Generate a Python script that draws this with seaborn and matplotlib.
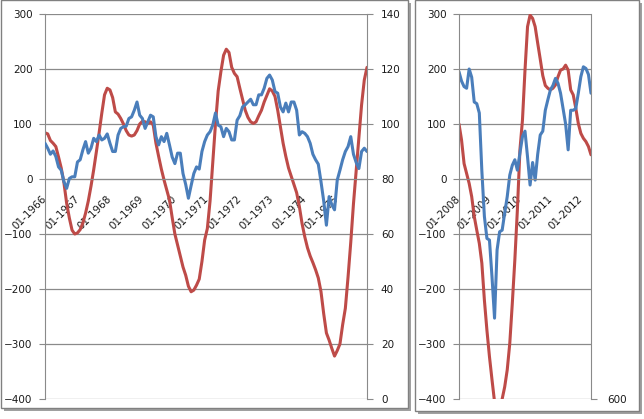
import numpy as np
import pandas as pd
import matplotlib
matplotlib.use("Agg")
import matplotlib.pyplot as plt
import seaborn as sns
from matplotlib.patches import Rectangle

# ---- data ----
# left panel: monthly, 01-1966 .. 12-1975
months_a = pd.date_range("1966-01-01", periods=120, freq="MS")
red_a = [84, 82, 70, 65, 59, 40, 20, -7, -44, -71, -93, -100, -98, -92, -80, -62, -40, -13, 17, 50,
         84, 120, 153, 165, 162, 148, 122, 118, 110, 100, 88, 80, 78, 80, 88, 100, 105, 104, 101, 104,
         98, 65, 41, 18, -2, -20, -38, -70, -100, -120, -140, -160, -175, -195, -205, -202, -193, -182, -150, -111,
         -90, -40, 30, 100, 160, 195, 225, 236, 230, 203, 192, 186, 165, 145, 125, 112, 104, 101, 104, 115,
         125, 140, 152, 164, 160, 150, 125, 95, 65, 41, 20, 5, -10, -25, -50, -81, -105, -125, -140, -152,
         -165, -180, -205, -245, -280, -293, -308, -322, -312, -300, -265, -235, -178, -115, -45, 15, 75, 135, 180, 203]
# blue series is on the secondary (right) axis
blue_a = [93.0, 91.2, 89.0, 90.2, 88.2, 84.4, 83.2, 79.0, 76.6, 80.2, 80.8, 80.8, 86.2, 87.0, 90.6, 93.6, 89.4, 91.2, 94.8, 93.6,
          96.0, 94.2, 94.8, 96.4, 93.0, 90.0, 90.0, 96.0, 98.4, 99.0, 99.2, 102.0, 102.6, 105.0, 108.0, 103.2, 102.0, 98.4, 100.8, 103.2,
          102.6, 95.4, 92.4, 95.4, 93.6, 96.6, 92.4, 88.0, 85.6, 89.4, 89.4, 82.0, 78.0, 73.0, 77.6, 82.0, 84.4, 83.6, 90.0, 93.6,
          96.0, 97.2, 99.6, 104.0, 99.6, 99.0, 95.4, 98.4, 97.2, 94.2, 94.2, 101.4, 103.0, 106.2, 107.0, 108.0, 109.0, 107.0, 107.0, 110.6,
          110.6, 113.0, 116.6, 117.8, 116.0, 111.8, 111.2, 106.2, 104.4, 107.6, 104.4, 108.0, 108.0, 105.0, 96.0, 97.2, 96.6, 95.4, 93.0, 89.0,
          87.0, 85.4, 79.0, 72.0, 63.2, 73.6, 70.6, 68.8, 79.6, 83.2, 87.0, 90.0, 91.8, 95.4, 89.0, 86.0, 83.8, 90.0, 91.2, 90.0]

# right panel: monthly, 01-2008 .. 05-2012
months_b = pd.date_range("2008-01-01", periods=53, freq="MS")
red_b = [100, 71, 28, 10, -8, -32, -68, -93, -117, -153, -220, -275, -323, -365, -405, -430, -420, -400, -378, -347,
         -299, -226, -147, -56, 53, 107, 198, 277, 298, 292, 277, 247, 218, 188, 170, 165, 162, 165, 171, 186,
         198, 200, 207, 198, 162, 153, 129, 101, 83, 74, 68, 59, 44]
blue_b = [195, 178, 168, 165, 200, 185, 140, 137, 120, 15, -68, -108, -111, -178, -253, -129, -96, -93, -62, -32,
          7, 25, 35, 16, 47, 77, 87, 40, -11, 30, -2, 45, 80, 87, 125, 144, 162, 170, 183, 174,
          156, 128, 100, 53, 125, 125, 128, 156, 186, 204, 201, 190, 156]

RED = "#BE4B48"
BLUE = "#4A7EBB"
GRID = "#8a8a8a"
TXT = "#1a1a1a"

sns.set_style("white")
plt.rcParams["font.family"] = ["DejaVu Sans"]
plt.rcParams["font.size"] = 7.5

W, H = 644, 419
fig = plt.figure(figsize=(W / 100, H / 100), dpi=100)


def frame(x0, y0, x1, y1):
    # excel-like chart box with a small drop shadow
    sh = Rectangle(((x0 + 3) / W, 1 - (y1 + 3) / H), (x1 - x0) / W, (y1 - y0) / H,
                   transform=fig.transFigure, facecolor="#a0a0a0", edgecolor="none", zorder=-10)
    bx = Rectangle((x0 / W, 1 - y1 / H), (x1 - x0) / W, (y1 - y0) / H,
                   transform=fig.transFigure, facecolor="white", edgecolor="#808080", lw=1, zorder=-9)
    fig.patches.extend([sh, bx])


frame(1, 0.5, 408, 408)
frame(415, 0.5, 639, 411)


def style_axis(ax, n, dates):
    ax.set_xlim(0, n - 1)
    ax.set_ylim(-400, 300)
    ax.set_yticks(range(-400, 301, 100))
    ax.yaxis.grid(True, color=GRID, lw=0.9)
    ax.set_axisbelow(True)
    ax.patch.set_alpha(0)
    ax.spines["top"].set_visible(False)
    ax.spines["right"].set_visible(False)
    ax.spines["left"].set_color(GRID)
    ax.spines["bottom"].set_color(GRID)
    ax.spines["bottom"].set_position(("data", 0))
    pos = list(range(0, n, 12))
    ax.set_xticks(pos)
    ax.set_xticklabels([dates[p].strftime("%m-%Y") for p in pos], rotation=45,
                       ha="right", va="center", rotation_mode="anchor", color=TXT)
    ax.tick_params(axis="x", direction="out", length=3, color=GRID, pad=10)
    ax.tick_params(axis="y", direction="out", length=4, color=GRID, pad=5, labelcolor=TXT)
    ax.set_xlabel("")
    ax.set_ylabel("")


# left panel
axA = fig.add_axes([45 / W, 1 - 399 / H, 322 / W, 385 / H])
sns.lineplot(x=np.arange(len(red_a)), y=red_a, ax=axA, color=RED, lw=2.2)
style_axis(axA, len(red_a), months_a)

axA2 = axA.twinx()
sns.lineplot(x=np.arange(len(blue_a)), y=blue_a, ax=axA2, color=BLUE, lw=2.2)
axA2.set_ylim(0, 140)
axA2.set_yticks(range(0, 141, 20))
for s in ["top", "bottom", "left"]:
    axA2.spines[s].set_visible(False)
axA2.spines["right"].set_color(GRID)
axA2.tick_params(axis="y", direction="out", length=4, color=GRID, pad=6, labelcolor=TXT)
axA2.set_ylabel("")
axA2.grid(False)

# right panel
axB = fig.add_axes([459 / W, 1 - 399 / H, 132 / W, 385 / H])
sns.lineplot(x=np.arange(len(red_b)), y=red_b, ax=axB, color=RED, lw=2.2)
sns.lineplot(x=np.arange(len(blue_b)), y=blue_b, ax=axB, color=BLUE, lw=2.2)
style_axis(axB, len(red_b), months_b)

axB2 = axB.twinx()
axB2.set_ylim(600, 1300)
axB2.set_yticks([600])
for s in ["top", "bottom", "left"]:
    axB2.spines[s].set_visible(False)
axB2.spines["right"].set_color(GRID)
axB2.tick_params(axis="y", direction="out", length=4, color=GRID, pad=8, labelcolor=TXT)
axB2.grid(False)

fig.savefig("out.png", dpi=100)
